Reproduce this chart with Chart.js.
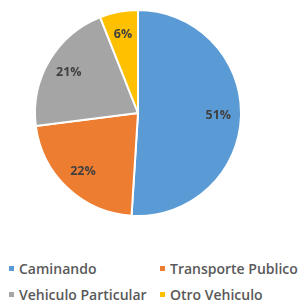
<!DOCTYPE html>
<html>
<head>
<meta charset="utf-8">
<script src="https://cdn.jsdelivr.net/npm/chart.js@4"></script>
<style>
  html, body { margin: 0; padding: 0; background: #ffffff; }
  #wrap { position: relative; width: 299px; height: 305px; overflow: hidden; }
  #pie-box { position: absolute; left: 0; top: 0; width: 276px; height: 226px; }
  #legend { position: absolute; left: 9px; top: 259px; width: 300px;
    display: grid; grid-template-columns: 151px 149px; row-gap: 8px;
    font-family: "Open Sans", sans-serif; font-weight: 600; font-size: 14px; color: #595959; }
  #legend .item { display: flex; align-items: center; white-space: nowrap; height: 18px; overflow: visible; }
  #legend .box { width: 5px; height: 5px; margin-right: 5px; flex: none; }
</style>
</head>
<body>
<div id="wrap">
  <div id="pie-box"><canvas id="pie"></canvas></div>
  <div id="legend"></div>
</div>
<script>
const categories = ["Caminando", "Transporte Publico", "Vehiculo Particular", "Otro Vehiculo"];
const shares = [51, 22, 21, 6];
const sliceColors = ["#5b9bd5", "#ed7d31", "#a5a5a5", "#ffc000"];

// percentage labels inside each slice
const sliceLabels = {
    id: 'sliceLabels',
    afterDatasetsDraw(chart) {
        const ctx = chart.ctx;
        const meta = chart.getDatasetMeta(0);
        ctx.save();
        ctx.font = "bold 12.5px 'Open Sans', sans-serif";
        ctx.fillStyle = "#404040";
        ctx.textAlign = "center";
        ctx.textBaseline = "middle";
        meta.data.forEach((arc, i) => {
            const p = arc.getProps(['x', 'y', 'startAngle', 'endAngle', 'outerRadius'], true);
            const mid = (p.startAngle + p.endAngle) / 2;
            const r = p.outerRadius * 0.78;
            ctx.fillText(shares[i] + "%", p.x + Math.cos(mid) * r, p.y + Math.sin(mid) * r);
        });
        ctx.restore();
    }
};

function buildLegend() {
    const legend = document.getElementById("legend");
    categories.forEach((name, i) => {
        const item = document.createElement("div");
        item.className = "item";
        const box = document.createElement("span");
        box.className = "box";
        box.style.background = sliceColors[i];
        item.appendChild(box);
        item.appendChild(document.createTextNode(name));
        legend.appendChild(item);
    });
}

function createChart() {
    new Chart(document.getElementById("pie"), {
        type: 'pie',
        data: {
            labels: categories,
            datasets: [{
                data: shares,
                backgroundColor: sliceColors,
                borderColor: "#ffffff",
                borderWidth: 2
            }]
        },
        options: {
            responsive: true,
            maintainAspectRatio: false,
            animation: false,
            layout: { padding: { top: 9, bottom: 9 } },
            plugins: {
                legend: { display: false },
                tooltip: { enabled: false }
            }
        },
        plugins: [sliceLabels]
    });
}

window.addEventListener("load", function(){
    buildLegend();
    createChart();
});
</script>
</body>
</html>
